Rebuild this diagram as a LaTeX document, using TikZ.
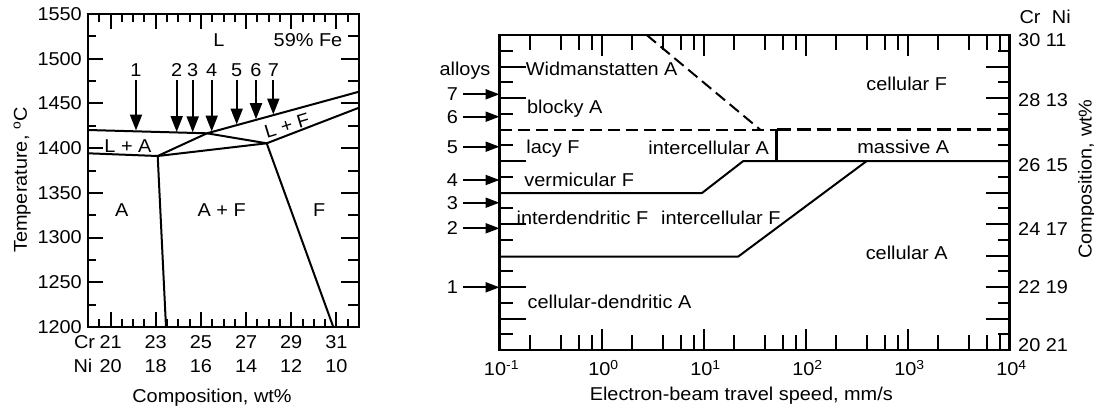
\documentclass[tikz,border=0pt]{standalone}
\usepackage{fontspec}
\setmainfont{Liberation Sans}[FakeStretch=1.07]
\usetikzlibrary{arrows.meta}
\newcommand\figfont{\fontsize{18.6}{22}\selectfont}
\begin{document}
\begin{tikzpicture}[x=1pt,y=-1pt,
  frame/.style={line width=2.7pt},
  phase/.style={line width=2pt, line join=round},
  tk/.style={line width=2pt},
  lbl/.style={inner sep=0pt, anchor=base, font=\figfont},
  arrL/.style={line width=2pt, -{Triangle[length=16pt,width=12pt]}},
  arrR/.style={line width=2pt, -{Triangle[length=14pt,width=10pt]}},
  dashln/.style={line width=2pt, dash pattern=on 12pt off 6pt},
  dashthick/.style={line width=2.7pt, dash pattern=on 14pt off 6pt},
  bar/.style={line width=2.7pt}]
\useasboundingbox (0,0) rectangle (1094,407);

%================ LEFT PANEL =================
\draw[frame] (88,14) rectangle (359,327);
\foreach \k in {1,...,13}{
  \pgfmathsetmacro\rr{14+\k*22.357}
  \pgfmathsetmacro\LL{ifthenelse(mod(\k,2)==0,15,8)}
  \pgfmathsetmacro\RL{ifthenelse(mod(\k,2)==0,18,11)}
  \draw[tk] (88,\rr) -- ++(\LL,0);
  \draw[tk] (359,\rr) -- ++(-\RL,0);
}
\foreach \j in {1,...,23}{
  \pgfmathsetmacro\xx{88+\j*11.2917}
  \pgfmathsetmacro\LL{ifthenelse(mod(\j,4)==2,15,8)}
  \draw[tk] (\xx,327) -- ++(0,-\LL);
  \draw[tk] (\xx,14) -- ++(0,\LL);
}
% y labels
\foreach \k/\t in {0/1550,1/1500,2/1450,3/1400,4/1350,5/1300,6/1250,7/1200}{
  \node[font=\figfont, inner sep=0pt, anchor=east] (yl\k) at (82,{14+\k*44.714}) {\t};
}
\node[lbl, rotate=90] (ytitle) at (27,180) {Temperature, \textsuperscript{o}C};
% x labels
\node[lbl] (crL) at (84.5,348.3) {Cr};
\node[lbl] (niL) at (83,372.3) {Ni};
\foreach \c/\n [count=\i from 0] in {21/20,23/18,25/16,27/14,29/12,31/10}{
  \node[lbl] (cr\i) at ({88+(\c-20)*22.583},348.3) {\c};
  \node[lbl] (ni\i) at ({88+(\c-20)*22.583},372.3) {\n};
}
\node[lbl] (xtitleL) at (212,402) {Composition, wt\%};

% phase boundaries
\coordinate (p1) at (88,130);
\coordinate (p2) at (207,133.3);
\coordinate (p3) at (359,91.7);
\coordinate (s1) at (88,153.3);
\coordinate (s2) at (157.7,156);
\coordinate (q)  at (266.7,143.3);
\coordinate (q2) at (359,107.7);
\coordinate (b1) at (166,327);
\coordinate (b2) at (333.3,327);
\draw[phase] (p1) -- (p2) -- (p3);
\draw[phase] (s1) -- (s2) -- (p2);
\draw[phase] (p2) -- (q) -- (q2);
\draw[phase] (s2) -- (q);
\draw[phase] (s2) -- (b1);
\draw[phase] (q) -- (b2);

% alloy arrows
\foreach \n/\x/\e in {1/136/130.5,2/176.7/132,3/192.7/132.3,4/211.7/131.5,5/236.7/124.5,6/256/119.2,7/273.3/114.5}{
  \node[lbl] (an\n) at (\x,76.5) {\n};
  \coordinate (at\n) at (\x,80);
  \coordinate (ae\n) at (\x,\e);
  \draw[arrL] (at\n) -- (ae\n);
}
% region labels
\node[lbl] (Lr) at (219,46.5) {L};
\node[lbl] (fe) at (308,46.5) {59\% Fe};
\node[lbl] (LA) at (128,152.5) {L + A};
\node[font=\figfont, inner sep=0pt, rotate=17] (LF) at (287,126) {L + F};
\node[lbl] (Ar) at (121.7,216.5) {A};
\node[lbl] (AFr) at (221.7,216.5) {A + F};
\node[lbl] (Fr) at (319.3,216.5) {F};

%================ RIGHT PANEL =================
\draw[frame] (499.5,35) rectangle (1009.5,350);
\foreach \d in {0,...,4}{
  \foreach \m in {2,4,6,8}{
    \pgfmathsetmacro\xx{499.5+(\d+log10(\m))*102}
    \draw[tk] (\xx,350) -- ++(0,-15);
    \draw[tk] (\xx,35) -- ++(0,15);
  }
}
\foreach \d in {1,...,4}{
  \pgfmathsetmacro\xx{499.5+\d*102}
  \draw[tk] (\xx,350) -- ++(0,-21);
  \draw[tk] (\xx,35) -- ++(0,21);
}
\foreach \k in {1,2,3,4,5,7,8,9,11,12,13,15,16,17,18,19}{
  \pgfmathsetmacro\rr{35+\k*15.75}
  \pgfmathsetmacro\LL{ifthenelse(mod(\k,2)==0,26,13)}
  \draw[tk] (499.5,\rr) -- ++(\LL,0);
}
\foreach \k in {1,2,3,4,5,7,8,...,19}{
  \pgfmathsetmacro\rr{35+\k*15.75}
  \pgfmathsetmacro\LL{ifthenelse(mod(\k,2)==0,24,12)}
  \draw[tk] (1009.5,\rr) -- ++(-\LL,0);
}
% x labels
\foreach \e [count=\i from 0] in {-1,0,1,2,3,4}{
  \node[lbl] (xe\i) at ({501.5+\i*102},375.5) {10\textsuperscript{\e}};
}
\node[lbl] (xtitleR) at (741.3,400) {Electron-beam travel speed, mm/s};
% right labels
\node[lbl, anchor=base west] (crR) at (1019.3,23.3) {Cr};
\node[lbl, anchor=base west] (niR) at (1051.7,23.3) {Ni};
\node[lbl, anchor=base west] (r30) at (1018,46.7) {30 11};
\node[lbl, anchor=base west] (r28) at (1018,106) {28 13};
\node[lbl, anchor=base west] (r26) at (1018,171.7) {26 15};
\node[lbl, anchor=base west] (r24) at (1018,235) {24 17};
\node[lbl, anchor=base west] (r22) at (1018,293.3) {22 19};
\node[lbl, anchor=base west] (r20) at (1018,351.7) {20 21};
\node[lbl, rotate=90] (ytitleR) at (1091.7,179) {Composition, wt\%};

% boundaries
\coordinate (d0) at (499.5,129.5);
\coordinate (vb) at (776.7,129.5);
\coordinate (d1) at (1009.5,129.5);
\coordinate (w0) at (646.7,35);
\coordinate (w1) at (760,129.5);
\coordinate (vt) at (776.7,161);
\coordinate (m0) at (743.3,161);
\coordinate (m1) at (1009.5,161);
\coordinate (v0) at (499.5,193);
\coordinate (v1) at (702,193);
\coordinate (c0) at (499.5,256.5);
\coordinate (c1) at (738.3,256.5);
\coordinate (c2) at (866.7,161);
\draw[dashln] (d0) -- (vb);
\draw[dashthick] (vb) -- (d1);
\draw[dashln] (w0) -- (w1);
\draw[bar] (vb) -- (vt);
\draw[phase] (v0) -- (v1) -- (m0) -- (m1);
\draw[phase] (c0) -- (c1) -- (c2);

% alloy arrows
\node[lbl] (alloys) at (465,75) {alloys};
\foreach \n/\r in {7/94.3,6/116.7,5/146.7,4/180,3/202.7,2/228.3,1/287.3}{
  \node[lbl] (bn\n) at (452.3,{\r+6.5}) {\n};
  \coordinate (bs\n) at (463.3,\r);
  \coordinate (be\n) at (499.5,\r);
  \draw[arrR] (bs\n) -- (be\n);
}
% region labels
\node[lbl] (wid) at (601.7,75.5) {Widmanstatten A};
\node[lbl] (blk) at (564.7,113.5) {blocky A};
\node[lbl] (lacy) at (553,153) {lacy F};
\node[lbl] (icA) at (708.7,154.5) {intercellular A};
\node[lbl] (verm) at (579.2,186.5) {vermicular F};
\node[lbl] (idF) at (582.5,224.5) {interdendritic F};
\node[lbl] (icF) at (720.8,224.5) {intercellular F};
\node[lbl] (cdA) at (609.5,308) {cellular-dendritic A};
\node[lbl] (cF) at (906.7,90.5) {cellular F};
\node[lbl] (mA) at (903.3,153) {massive A};
\node[lbl] (cA) at (906.7,259.5) {cellular A};
\end{tikzpicture}
\end{document}
